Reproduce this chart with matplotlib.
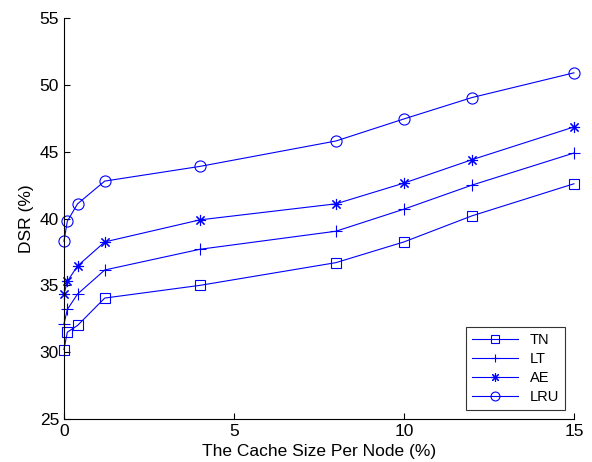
import matplotlib
matplotlib.use("Agg")
import matplotlib.pyplot as plt

x = [0, 0.1, 0.4, 1.2, 4, 8, 10, 12, 15]
tn = [30.2, 31.5, 32.0, 34.05, 35.0, 36.7, 38.25, 40.2, 42.6]
lt = [32.1, 33.2, 34.35, 36.15, 37.7, 39.05, 40.7, 42.5, 44.9]
ae = [34.35, 35.3, 36.45, 38.25, 39.9, 41.1, 42.65, 44.4, 46.85]
lru = [38.3, 39.8, 41.1, 42.8, 43.9, 45.8, 47.45, 49.05, 50.9]
series = [("TN", tn, "s", 7), ("LT", lt, "+", 8), ("AE", ae, (8, 2, 0), 8),
          ("LRU", lru, "o", 8)]

plt.rcParams['font.family'] = ['Liberation Sans', 'DejaVu Sans']
fig = plt.figure(figsize=(5.92, 4.62), dpi=100)
ax = fig.add_axes([0.108, 0.093, 0.8615, 0.868])
for name, y, m, ms in series:
    ax.plot(x, y, color='blue', marker=m, markersize=ms,
            markerfacecolor='none', markeredgecolor='blue', linewidth=0.8,
            markeredgewidth=0.8, label=name, clip_on=False)
ax.set_xlim(0, 15)
ax.set_ylim(25, 55)
ax.set_xticks([0, 5, 10, 15])
ax.set_yticks([25, 30, 35, 40, 45, 50, 55])
ax.tick_params(direction='in', labelsize=12.5, length=4)
ax.spines['top'].set_visible(False)
ax.spines['right'].set_visible(False)
ax.set_xlabel("The Cache Size Per Node (%)", fontsize=12.5)
ax.set_ylabel("DSR (%)", fontsize=12.5)
leg = ax.legend(loc='lower right', fontsize=10.5, handlelength=3.2, frameon=True,
                fancybox=False, edgecolor='black', borderaxespad=0.6,
                labelspacing=0.35, markerscale=0.8)
leg.get_frame().set_linewidth(0.8)
fig.savefig("out.png", dpi=100)
